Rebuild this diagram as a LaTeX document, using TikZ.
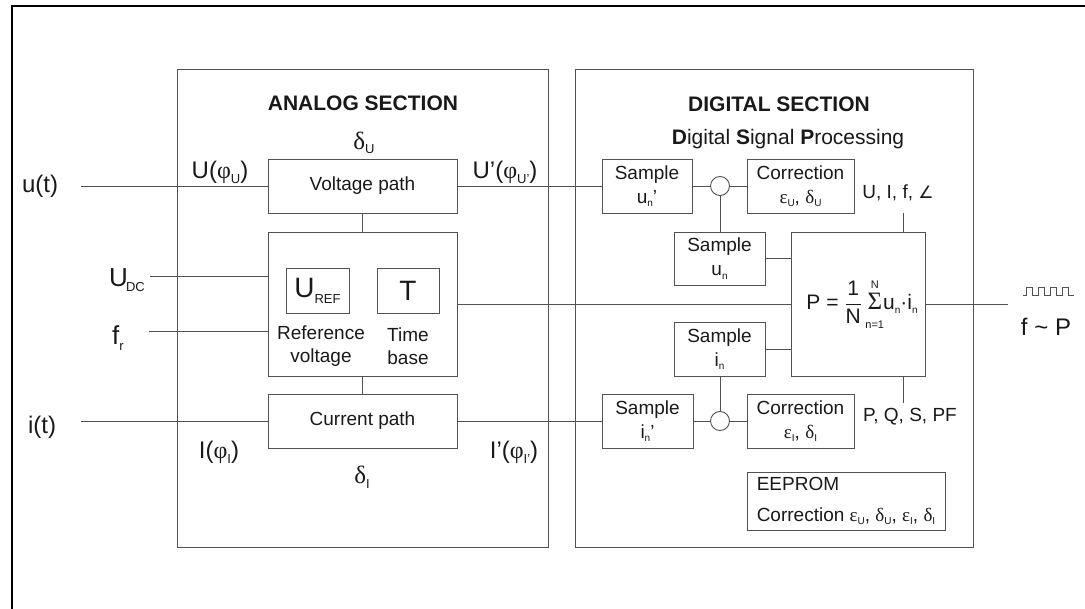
\documentclass[tikz,border=0pt]{standalone}
\usepackage{fontspec}
\setmainfont{Liberation Sans}
\newfontfamily\grk{Liberation Serif}
\newfontfamily\symf{DejaVu Sans}
\usetikzlibrary{calc,positioning}
\definecolor{linegray}{gray}{0.32}
\definecolor{txt}{gray}{0.1}
\newcommand{\lo}[1]{\raisebox{-0.35ex}{\fontsize{10}{10}\selectfont #1}}
\newcommand{\lob}[1]{\raisebox{-0.4ex}{\fontsize{13}{13}\selectfont #1}}
\tikzset{
  blk/.style={draw=linegray, line width=0.9pt, inner sep=0pt, outer sep=0pt,
    align=center, text=txt, font=\fontsize{19}{24}\selectfont},
  lbl/.style={inner sep=0pt, text=txt, font=\fontsize{24}{26}\selectfont},
  txtnode/.style={inner sep=0pt, text=txt, align=center, font=\fontsize{19}{23}\selectfont},
  ttl/.style={inner sep=0pt, text=txt, font=\fontsize{21}{24}\selectfont\bfseries},
  wire/.style={draw=linegray, line width=0.9pt},
  junc/.style={circle, draw=linegray, line width=0.9pt, minimum size=19pt, inner sep=0pt, outer sep=0pt},
}
\begin{document}
\begin{tikzpicture}[x=1pt, y=-1pt]
    \useasboundingbox (0,0) rectangle (1085,609);
    % outer frame
    \draw[line width=2pt] (1095,6) -- (12,6) -- (12,619);
    % sections
    \draw[wire] (177,69) rectangle (548,547);
    \draw[wire] (575,69) rectangle (973,547);
    \node[ttl] (antitle) at (363,103) {ANALOG SECTION};
    \node[ttl] (dgtitle) at (779,104) {DIGITAL SECTION};
    \node[txtnode, font=\fontsize{21}{24}\selectfont] (dsp) at (788,139) {\textbf{D}igital \textbf{S}ignal \textbf{P}rocessing};

    % analog section
    \node[blk, minimum width=189, minimum height=54] (vpath) at (362.5,186) {Voltage path};
    \node[blk, minimum width=189, minimum height=144] (ref) at (362.5,304) {};
    \node[blk, minimum width=63, minimum height=45] (uref) at (317.5,290.5) {\fontsize{28}{28}\selectfont U\lob{REF}};
    \node[blk, minimum width=62, minimum height=45] (tb) at (408,290.5) {\fontsize{28}{28}\selectfont T};
    \node[txtnode] (reftxt) at (321,346) {Reference\\voltage};
    \node[txtnode] (tbtxt) at (408,346) {Time\\base};
    \node[blk, minimum width=189, minimum height=54] (ipath) at (362.5,421) {Current path};

    \node[lbl, font=\fontsize{25}{26}\grk] (du) at (364,143) {δ\lob{\fontspec{Liberation Sans}U}};
    \node[lbl] (uphi) at (220,172) {U({\grk φ}\lob{U})};
    \node[lbl] (uphi2) at (505,172) {U’({\grk φ}\lob{U’})};
    \node[lbl] (iphi) at (219,452) {I({\grk φ}\lob{I})};
    \node[lbl] (iphi2) at (514,452) {I’({\grk φ}\lob{I’})};
    \node[lbl, font=\fontsize{25}{26}\grk] (di) at (362,477) {δ\lob{\fontspec{Liberation Sans}I}};

    % inputs
    \node[lbl] (ut) at (40,186) {u(t)};
    \node[lbl] (it) at (42,427) {i(t)};
    \node[lbl, font=\fontsize{26}{26}\selectfont] (udc) at (127,280) {U\lob{\kern-2pt DC}};
    \node[lbl, font=\fontsize{26}{26}\selectfont] (fr) at (118,338) {f\lob{r}};
    \coordinate (uin) at (81,186);
    \coordinate (iin) at (81,421);
    \coordinate (udcin) at (150,276);
    \coordinate (frin) at (149,331);
    \draw[wire] (uin) -- (vpath);
    \draw[wire] (iin) -- (ipath);
    \draw[wire] (udcin) -- (udcin -| ref.west);
    \draw[wire] (frin) -- (frin -| ref.west);
    \draw[wire] (vpath) -- (ref);
    \draw[wire] (ref) -- (ipath);

    % digital section
    \node[blk, minimum width=90, minimum height=54] (su1) at (647,186) {Sample\\u\lo{n}’};
    \node[junc] (c1) at (720,186) {};
    \node[blk, minimum width=107, minimum height=54] (cu) at (800.5,186) {Correction\\{\grk ε}\lo{U}, {\grk δ}\lo{U}};
    \node[blk, minimum width=91, minimum height=53] (su) at (719.5,258.5) {Sample\\u\lo{n}};
    \node[blk, minimum width=134, minimum height=144] (pbox) at (858,304) {};
    \node[txtnode, font=\fontsize{21}{24}\selectfont] (formula) at (862,304)
      {P = $\displaystyle\frac{\mbox{1}}{\mbox{N}}$\,$\vcenter{\hbox{\begin{tabular}{@{}c@{}}%
        \fontsize{11}{11}\selectfont N\\[-3pt]%
        \fontsize{25}{25}\selectfont\grk Σ\\[-5pt]%
        \fontsize{11}{11}\selectfont n=1\end{tabular}}}$\kern-1pt u\lo{n}·i\lo{n}};
    \node[blk, minimum width=91, minimum height=54] (si) at (719.5,349) {Sample\\i\lo{n}};
    \node[blk, minimum width=91, minimum height=54] (si1) at (647.5,421) {Sample\\i\lo{n}’};
    \node[junc] (c2) at (720,421) {};
    \node[blk, minimum width=107, minimum height=54] (ci) at (800.5,421) {Correction\\{\grk ε}\lo{I}, {\grk δ}\lo{I}};
    \node[blk, minimum width=198, minimum height=58, align=left, font=\fontsize{19}{31}\selectfont] (eeprom) at (846,501)
      {EEPROM\\Correction {\grk ε}\lo{U}, {\grk δ}\lo{U}, {\grk ε}\lo{I}, {\grk δ}\lo{I}};

    \node[txtnode] (uif) at (898,193) {U, I, f, {\symf\fontsize{17}{17}\selectfont ∠}};
    \node[txtnode] (pqs) at (910,417) {P, Q, S, PF};
    \coordinate (uifin) at (903,213);
    \coordinate (pqsin) at (903,403);
    \coordinate (outp) at (1008,304);

    \draw[wire] (vpath) -- (su1);
    \draw[wire] (ipath) -- (si1);
    \draw[wire] (su1) -- (c1) -- (cu);
    \draw[wire] (si1) -- (c2) -- (ci);
    \draw[wire] (c1) -- (c1 |- su.north);
    \draw[wire] (c2) -- (c2 |- si.south);
    \draw[wire] (su) -- (su -| pbox.west);
    \draw[wire] (si) -- (si -| pbox.west);
    \draw[wire] (ref) -- (pbox);
    \draw[wire] (uifin) -- (uifin |- pbox.north);
    \draw[wire] (pqsin) -- (pqsin |- pbox.south);
    \draw[wire] (pbox) -- (outp);

    % output
    \draw[wire, line width=0.8pt] (1023,295) -- (1026,295)
      \foreach \k in {0,1,2,3} { -- ++(0,-8) -- ++(6,0) -- ++(0,8) -- ++(6,0) };
    \node[lbl] (fp) at (1046,327) {f \textasciitilde\ P};
\end{tikzpicture}
\end{document}
